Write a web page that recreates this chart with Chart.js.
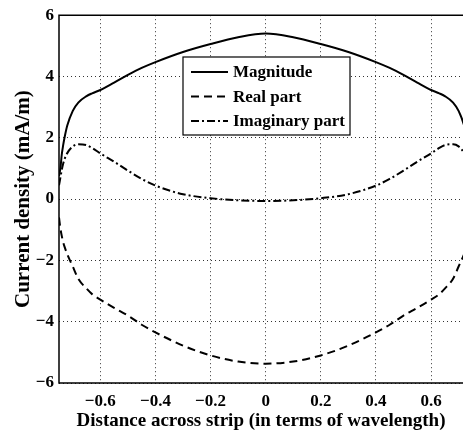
<!DOCTYPE html>
<html>
<head>
<meta charset="utf-8">
<script src="https://cdn.jsdelivr.net/npm/chart.js@4"></script>
<style>
  html, body { margin: 0; padding: 0; background: #fff; }
  #wrap { width: 463px; height: 430px; }
</style>
</head>
<body>
<div id="wrap"><canvas id="currentChart" width="463" height="430"></canvas></div>
<script>
// distance across strip (wavelengths)
const xs = [-0.75, -0.745, -0.74, -0.735, -0.73, -0.72, -0.70, -0.68, -0.65, -0.63, -0.6, -0.55, -0.5, -0.45, -0.4, -0.3, -0.2, -0.1, 0,
            0.1, 0.2, 0.3, 0.4, 0.45, 0.5, 0.55, 0.6, 0.63, 0.65, 0.68, 0.70, 0.72, 0.73, 0.735, 0.74, 0.745, 0.75]
const magnitude = [0.75, 1.0, 1.45, 1.75, 2.0, 2.4, 2.88, 3.15, 3.36, 3.45, 3.56, 3.8, 4.05, 4.28, 4.47, 4.8, 5.06, 5.28, 5.40,
                   5.28, 5.06, 4.8, 4.47, 4.28, 4.05, 3.8, 3.56, 3.45, 3.36, 3.15, 2.88, 2.4, 2.0, 1.75, 1.45, 1.0, 0.75]
const realPart = [-0.6, -0.95, -1.2, -1.4, -1.55, -1.8, -2.2, -2.6, -2.92, -3.1, -3.28, -3.55, -3.8, -4.1, -4.35, -4.78, -5.1, -5.3, -5.37,
                  -5.3, -5.1, -4.78, -4.35, -4.1, -3.8, -3.55, -3.28, -3.1, -2.92, -2.6, -2.2, -1.8, -1.55, -1.4, -1.2, -0.95, -0.6]
const imagPart = [0.45, 0.7, 0.95, 1.15, 1.3, 1.5, 1.72, 1.79, 1.76, 1.67, 1.49, 1.22, 0.93, 0.66, 0.44, 0.16, 0.03, -0.04, -0.06,
                  -0.04, 0.03, 0.16, 0.44, 0.66, 0.93, 1.22, 1.49, 1.67, 1.76, 1.79, 1.72, 1.5, 1.3, 1.15, 0.95, 0.7, 0.45]
const xTicks = [-0.6, -0.4, -0.2, 0, 0.2, 0.4, 0.6]
const yTicks = [-6, -4, -2, 0, 2, 4, 6]

const serif = "'Liberation Serif', 'DejaVu Serif', serif"

function pts(ys) {
    return xs.map((x, i) => ({x: x, y: ys[i]}))
}
function fmt(v) {
    // matlab style minus sign
    return v < 0 ? '\u2212' + Math.abs(v) : String(v)
}

// legend box drawn inside the plot, like the matlab one
const boxLegend = {
    id: 'boxLegend',
    afterDraw(chart) {
        const ctx = chart.ctx
        const area = chart.chartArea
        ctx.save()
        ctx.setLineDash([])
        // frame lines (top, left, bottom)
        ctx.strokeStyle = '#000'
        ctx.lineWidth = 1.5
        ctx.beginPath()
        ctx.moveTo(area.right, area.top)
        ctx.lineTo(area.left, area.top)
        ctx.lineTo(area.left, area.bottom)
        ctx.lineTo(area.right, area.bottom)
        ctx.stroke()

        const bx = 183, by = 57, bw = 167, bh = 78
        ctx.fillStyle = '#fff'
        ctx.fillRect(bx, by, bw, bh)
        ctx.lineWidth = 1.2
        ctx.strokeRect(bx, by, bw, bh)
        ctx.font = 'bold 17px ' + serif
        ctx.textBaseline = 'middle'
        ctx.fillStyle = '#000'
        chart.data.datasets.forEach((ds, i) => {
            const y = by + 15 + i * 24.5
            ctx.setLineDash(ds.borderDash || [])
            ctx.lineWidth = 2
            ctx.beginPath()
            ctx.moveTo(bx + 8, y)
            ctx.lineTo(bx + 45, y)
            ctx.stroke()
            ctx.setLineDash([])
            ctx.fillText(ds.label, bx + 50, y + 1)
        })
        ctx.restore()
    }
}

new Chart('currentChart', {
    type: 'line',
    data: {
        datasets: [
            {label: 'Magnitude', data: pts(magnitude), borderColor: '#000', borderWidth: 2, borderDash: []},
            {label: 'Real part', data: pts(realPart), borderColor: '#000', borderWidth: 2, borderDash: [8, 5]},
            {label: 'Imaginary part', data: pts(imagPart), borderColor: '#000', borderWidth: 2, borderDash: [8, 3, 2, 3]}
        ]
    },
    options: {
        responsive: false,
        animation: false,
        layout: {padding: {top: 12, right: 0, left: 0, bottom: 0}},
        elements: {
            point: {radius: 0},
            line: {cubicInterpolationMode: 'monotone', fill: false}
        },
        plugins: {
            legend: {display: false},
            tooltip: {enabled: false}
        },
        scales: {
            x: {
                type: 'linear',
                min: -0.75,
                max: 0.716,
                afterBuildTicks: s => { s.ticks = xTicks.map(v => ({value: v})) },
                afterFit: s => { s.height = 47 },
                grid: {color: '#333', drawTicks: false},
                border: {display: false, dash: [1, 3]},
                ticks: {
                    padding: 8,
                    color: '#000',
                    font: {family: serif, size: 17, weight: 'bold'},
                    callback: v => fmt(v)
                },
                title: {
                    display: true,
                    text: 'Distance across strip (in terms of wavelength)',
                    color: '#000',
                    font: {family: serif, size: 19, weight: 'bold', lineHeight: 1},
                    padding: {top: 0, bottom: -1}
                }
            },
            y: {
                min: -6,
                max: 6,
                afterBuildTicks: s => { s.ticks = yTicks.map(v => ({value: v})) },
                afterFit: s => { s.width = 59 },
                grid: {color: '#333', drawTicks: false},
                border: {display: false, dash: [1, 3]},
                ticks: {
                    padding: 5,
                    color: '#000',
                    font: {family: serif, size: 17, weight: 'bold'},
                    callback: v => fmt(v)
                },
                title: {
                    display: true,
                    text: 'Current density (mA/m)',
                    color: '#000',
                    font: {family: serif, size: 21, weight: 'bold', lineHeight: 1},
                    padding: {top: 13, bottom: 0}
                }
            }
        }
    },
    plugins: [boxLegend]
})
</script>
</body>
</html>
